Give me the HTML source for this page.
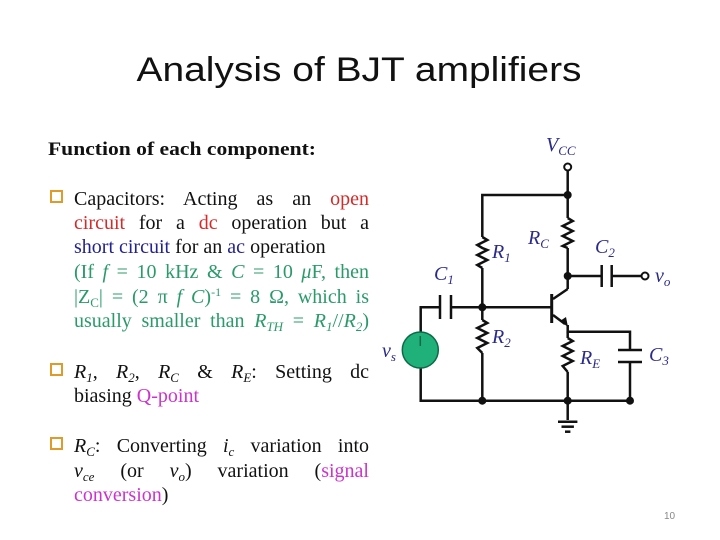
<!DOCTYPE html>
<html><head><meta charset="utf-8"><style>
html,body{margin:0;padding:0;background:#fff;}
svg{display:block;position:absolute;left:0;top:0;}
.ln{position:absolute;left:74px;width:295px;font-family:"Liberation Serif",serif;font-size:20px;line-height:24px;color:#111;white-space:nowrap;}
.j{text-align:justify;text-align-last:justify;white-space:normal;}
.r{color:#d42a2a}.b{color:#23238f}.g{color:#2a9a6a}.m{color:#cc33cc}
sub{font-size:13px;vertical-align:-4px;line-height:0;}
sup{font-size:12px;vertical-align:7px;line-height:0;}
i{font-style:italic}
</style></head><body>
<svg width="720" height="540" viewBox="0 0 720 540" xmlns="http://www.w3.org/2000/svg">
<text x="359" y="81" text-anchor="middle" font-family="Liberation Sans, sans-serif" font-size="34" fill="#111" textLength="445" lengthAdjust="spacingAndGlyphs">Analysis of BJT amplifiers</text>
<text x="48" y="155" font-family="Liberation Serif, serif" font-weight="bold" font-size="19" fill="#111" textLength="268" lengthAdjust="spacingAndGlyphs">Function of each component:</text>
<g fill="#fff" stroke="#e09a2a" stroke-width="2">
<rect x="51" y="191" width="11" height="11"/><rect x="51" y="364" width="11" height="11"/><rect x="51" y="438" width="11" height="11"/></g>
<g stroke="#111" stroke-width="2.5" fill="none">
<line x1="567.7" y1="171" x2="567.7" y2="218"/>
<polyline points="482.3,237 482.3,195 567.7,195"/>
<polyline points="567.7,218 572.7,221 562.7,226 572.7,231 562.7,236 572.7,241 562.7,246 567.7,248"/>
<line x1="567.7" y1="248" x2="567.7" y2="289"/>
<polyline points="482.3,237 487.3,240 477.3,245 482.3,248 487.3,250 477.3,255 487.3,260 477.3,265 482.3,268"/>
<line x1="482.3" y1="268" x2="482.3" y2="320"/>
<polyline points="482.3,320 487.3,323 477.3,328 487.3,333 477.3,338 487.3,343 477.3,348 482.3,353"/>
<line x1="482.3" y1="353" x2="482.3" y2="400.7"/>
<line x1="567.7" y1="276" x2="601.7" y2="276"/>
<line x1="611.7" y1="276" x2="641.5" y2="276"/>
<line x1="601.7" y1="265" x2="601.7" y2="287"/><line x1="611.7" y1="265" x2="611.7" y2="287"/>
<polyline points="420.7,332 420.7,307.3 440,307.3"/>
<line x1="440" y1="295" x2="440" y2="319"/><line x1="451" y1="295" x2="451" y2="319"/>
<line x1="451" y1="307.3" x2="551.7" y2="307.3"/>
<line x1="551.7" y1="294" x2="551.7" y2="323" stroke-width="3"/>
<line x1="553" y1="299" x2="567.7" y2="289"/>
<line x1="553" y1="315" x2="565" y2="324"/>
<polyline points="567.7,325 567.7,331.7 630,331.7 630,350"/>
<line x1="567.7" y1="331.7" x2="567.7" y2="338"/>
<polyline points="567.7,338 572.7,341 562.7,346 572.7,351 562.7,356 572.7,361 562.7,366 567.7,372"/>
<line x1="567.7" y1="372" x2="567.7" y2="420"/>
<line x1="618" y1="350" x2="642" y2="350"/><line x1="618" y1="362" x2="642" y2="362"/>
<line x1="630" y1="362" x2="630" y2="400.7"/>
<polyline points="420.7,368 420.7,400.7 630,400.7"/>
<line x1="558" y1="421.7" x2="577.4" y2="421.7"/>
<line x1="561.5" y1="426.7" x2="573.9" y2="426.7"/>
<line x1="565" y1="431.7" x2="570.4" y2="431.7"/>
</g>
<polygon points="568,327 560,321 566,317" fill="#111"/>
<circle cx="420.3" cy="350" r="18" fill="#20b07a" stroke="#0d6a48" stroke-width="1.5"/>
<line x1="420.3" y1="336" x2="420.3" y2="346" stroke="#0d6a48" stroke-width="1.5"/>
<g fill="#111">
<circle cx="567.7" cy="195" r="4"/><circle cx="567.7" cy="276" r="4"/><circle cx="482.3" cy="307.3" r="4"/>
<circle cx="482.3" cy="400.7" r="4"/><circle cx="567.7" cy="400.7" r="4"/><circle cx="630" cy="400.7" r="4"/>
</g>
<circle cx="567.7" cy="167" r="3.5" fill="#fff" stroke="#111" stroke-width="2"/>
<circle cx="645" cy="276" r="3.5" fill="#fff" stroke="#111" stroke-width="2"/>
<g font-family="Liberation Serif, serif" font-style="italic" font-size="20" fill="#2b2b8a">
<text x="546" y="151">V<tspan font-size="13" dy="4">CC</tspan></text>
<text x="492" y="258">R<tspan font-size="13" dy="4">1</tspan></text>
<text x="528" y="244">R<tspan font-size="13" dy="4">C</tspan></text>
<text x="595" y="253">C<tspan font-size="13" dy="4">2</tspan></text>
<text x="434" y="280">C<tspan font-size="13" dy="4">1</tspan></text>
<text x="492" y="343">R<tspan font-size="13" dy="4">2</tspan></text>
<text x="580" y="364">R<tspan font-size="13" dy="4">E</tspan></text>
<text x="649" y="361">C<tspan font-size="13" dy="4">3</tspan></text>
<text x="382" y="357">v<tspan font-size="13" dy="4">s</tspan></text>
<text x="655" y="282">v<tspan font-size="13" dy="4">o</tspan></text>
</g>
<text x="664" y="519" font-family="Liberation Sans, sans-serif" font-size="10" fill="#888">10</text>
</svg>
<div class="ln j" style="top:187px">Capacitors: Acting as an <span class="r">open</span></div>
<div class="ln j" style="top:211px"><span class="r">circuit</span> for a <span class="r">dc</span> operation but a</div>
<div class="ln" style="top:235px"><span class="b">short circuit</span> for an <span class="b">ac</span> operation</div>
<div class="ln j g" style="top:260px">(If <i>f</i> = 10 kHz &amp; <i>C</i> = 10 <i>μ</i>F, then</div>
<div class="ln j g" style="top:285px">|Z<sub>C</sub>| = (2 π <i>f C</i>)<sup>-1</sup> = 8 Ω, which is</div>
<div class="ln j g" style="top:309px">usually smaller than <i>R<sub>TH</sub></i> = <i>R<sub>1</sub></i>//<i>R<sub>2</sub></i>)</div>
<div class="ln j" style="top:360px"><i>R<sub>1</sub></i>, <i>R<sub>2</sub></i>, <i>R<sub>C</sub></i> &amp; <i>R<sub>E</sub></i>: Setting dc</div>
<div class="ln" style="top:384px">biasing <span class="m">Q-point</span></div>
<div class="ln j" style="top:434px"><i>R<sub>C</sub></i>: Converting <i>i<sub>c</sub></i> variation into</div>
<div class="ln j" style="top:459px"><i>v<sub>ce</sub></i> (or <i>v<sub>o</sub></i>) variation (<span class="m">signal</span></div>
<div class="ln" style="top:483px"><span class="m">conversion</span>)</div>
</body></html>
